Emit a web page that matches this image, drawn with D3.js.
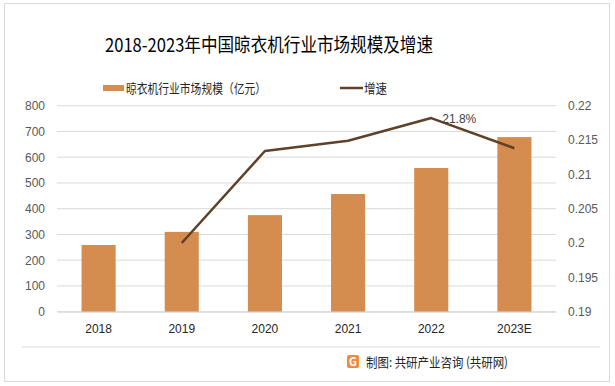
<!DOCTYPE html>
<html><head><meta charset="utf-8">
<script src="https://cdn.jsdelivr.net/npm/d3@7/dist/d3.min.js"></script>
<style>body{margin:0;background:#fff;}svg{display:block;font-family:"Noto Sans CJK SC","Microsoft YaHei",sans-serif;}</style>
</head><body><svg id="c" width="615" height="386"></svg>
<script>
const categories = ["2018","2019","2020","2021","2022","2023E"];
const marketSize = [259, 310, 375, 457, 558, 678];
const growthYears = ["2019","2020","2021","2022","2023E"];
const growthRate = [0.200, 0.2134, 0.2149, 0.2182, 0.2138];
const leftTicks = [0,100,200,300,400,500,600,700,800];
const rightTicks = [0.19,0.195,0.2,0.205,0.21,0.215,0.22];
const title = "2018-2023年中国晾衣机行业市场规模及增速";

const svg = d3.select("#c");
const barColor = "#d48c4f", lineColor = "#5e4128";
svg.append("rect").attr("x",4.5).attr("y",3.5).attr("width",605).attr("height",378).attr("fill","#fff").attr("stroke","#d9d9d9");

const x = d3.scaleBand().domain(categories).range([57,556]).paddingInner(0.59).paddingOuter(0.295);
const y = d3.scaleLinear().domain([0,800]).range([311.7,105.7]);
const y2 = d3.scaleLinear().domain([0.19,0.22]).range([311.7,105.7]);

// gridlines
svg.append("g").selectAll("line").data(leftTicks).join("line")
  .attr("x1",57).attr("x2",556).attr("y1",d=>y(d)).attr("y2",d=>y(d))
  .attr("stroke","#d9d9d9").attr("stroke-width",1);

// left axis
const la = svg.append("g").attr("transform","translate(50,0)")
  .call(d3.axisLeft(y).tickValues(leftTicks).tickSize(0).tickPadding(5));
la.select(".domain").remove();
la.selectAll("text").attr("fill","#595959").style("font-size","12px").style("font-family","Liberation Sans, Arial, sans-serif");

const ra = svg.append("g").attr("transform","translate(565,0)")
  .call(d3.axisRight(y2).tickValues(rightTicks).tickSize(0).tickPadding(3).tickFormat(d3.format("")));
ra.select(".domain").remove();
ra.selectAll("text").attr("fill","#595959").style("font-size","12px").style("font-family","Liberation Sans, Arial, sans-serif");

// bars
svg.append("g").selectAll("rect").data(categories).join("rect")
  .attr("x",d=>x(d)).attr("width",x.bandwidth())
  .attr("y",(d,i)=>y(marketSize[i])).attr("height",(d,i)=>y(0)-y(marketSize[i]))
  .attr("fill",barColor);

// x axis
const xa = svg.append("g").attr("transform","translate(0,311.7)")
  .call(d3.axisBottom(x).tickSize(0).tickPadding(13));
xa.select(".domain").attr("stroke","#d9d9d9");
xa.selectAll("text").attr("fill","#262626").style("font-size","12px").style("font-family","Liberation Sans, Arial, sans-serif");

// line
const line = d3.line().x((d,i)=>x(growthYears[i])+x.bandwidth()/2).y(d=>y2(d));
svg.append("path").datum(growthRate).attr("d",line).attr("fill","none")
  .attr("stroke",lineColor).attr("stroke-width",2.5).attr("stroke-linejoin","round");

// label
const iMax = growthRate.indexOf(d3.max(growthRate));
svg.append("text").attr("x",x(growthYears[iMax])+x.bandwidth()/2+11).attr("y",y2(growthRate[iMax])+5)
  .text(d3.format(".1%")(growthRate[iMax])).attr("fill","#404040")
  .style("font-size","12px").style("font-family","Liberation Sans, Arial, sans-serif");

// title
svg.append("text").attr("x",105).attr("y",52).text(title)
  .attr("textLength",328).attr("lengthAdjust","spacingAndGlyphs")
  .attr("fill","#000").style("font-size","19px");

// legend
svg.append("rect").attr("x",103).attr("y",85).attr("width",21).attr("height",6).attr("fill",barColor);
svg.append("text").attr("x",126).attr("y",93).text("晾衣机行业市场规模（亿元）")
  .attr("textLength",140).attr("lengthAdjust","spacingAndGlyphs")
  .style("font-size","13px").attr("fill","#262626");
svg.append("line").attr("x1",340).attr("x2",363).attr("y1",88).attr("y2",88).attr("stroke",lineColor).attr("stroke-width",2.5);
svg.append("text").attr("x",364).attr("y",93).text("增速")
  .attr("textLength",23).attr("lengthAdjust","spacingAndGlyphs")
  .style("font-size","13px").attr("fill","#262626");

// footer
svg.append("line").attr("x1",22).attr("x2",600).attr("y1",347).attr("y2",347).attr("stroke","#d9d9d9");
const lg = svg.append("g").attr("transform","translate(347,355)");
lg.append("rect").attr("width",12).attr("height",13).attr("rx",2).attr("fill","#f08a3c");
lg.append("text").attr("x",6).attr("y",11).attr("text-anchor","middle").text("G").attr("fill","#fff").style("font-size","11px").style("font-weight","bold");
svg.append("text").attr("x",366).attr("y",367).text("制图: 共研产业咨询 (共研网)")
  .attr("textLength",142).attr("lengthAdjust","spacingAndGlyphs")
  .style("font-size","13px").attr("fill","#262626");
</script></body></html>
